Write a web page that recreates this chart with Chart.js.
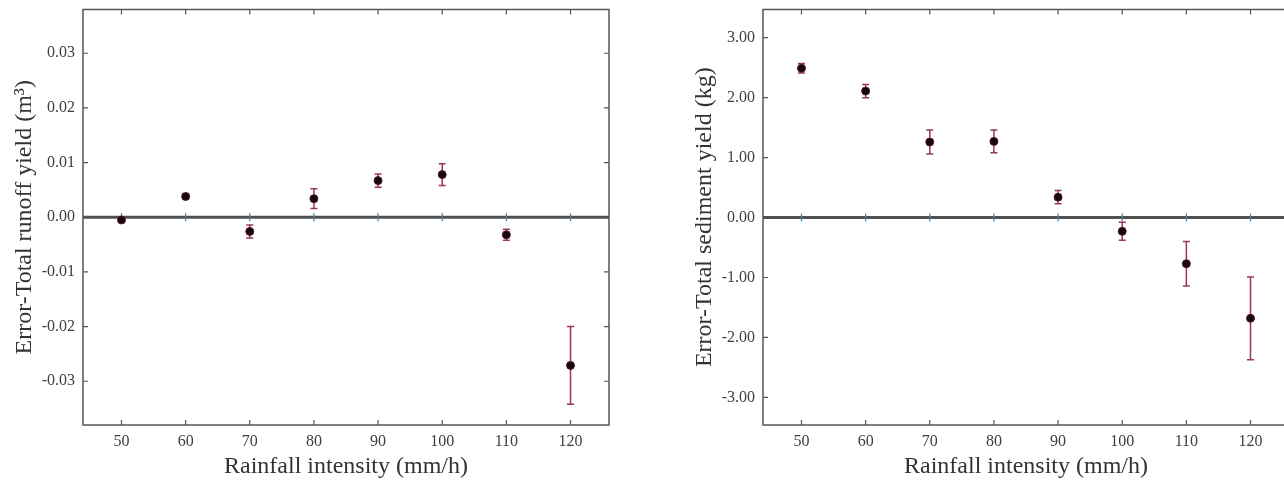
<!DOCTYPE html>
<html>
<head>
<meta charset="utf-8">
<script src="https://cdn.jsdelivr.net/npm/chart.js@4.4.1/dist/chart.umd.min.js"></script>
<style>
html,body{margin:0;padding:0;background:#fff;overflow:hidden;width:1284px;height:481px;}
.box{position:absolute;top:0;width:640px;height:481px;}
</style>
</head>
<body>
<div class="box" style="left:0"><canvas id="c1"></canvas></div>
<div class="box" style="left:680px"><canvas id="c2"></canvas></div>
<script>
const rainfall = [50, 60, 70, 80, 90, 100, 110, 120];
const runoffError = [-0.0005, 0.0038, -0.0026, 0.0034, 0.0067, 0.0078, -0.0032, -0.0271];
const runoffSD = [0.0003, 0.0005, 0.0012, 0.0018, 0.0012, 0.0020, 0.0010, 0.0071];
const sedimentError = [2.49, 2.11, 1.26, 1.27, 0.34, -0.23, -0.77, -1.68];
const sedimentSD = [0.08, 0.11, 0.20, 0.19, 0.11, 0.15, 0.37, 0.69];
const xTicks = [50, 60, 70, 80, 90, 100, 110, 120];
const runoffTicks = [-0.03, -0.02, -0.01, 0.00, 0.01, 0.02, 0.03];
const sedimentTicks = [-3, -2, -1, 0, 1, 2, 3];

const FONT = "'Liberation Serif', 'Times New Roman', serif";
const FRAME = '#555555';

const decorPlugin = {
  id: 'decor',
  beforeDatasetsDraw(chart) {
    const {ctx, chartArea: a, scales: {x, y}} = chart;
    ctx.save();
    const y0 = y.getPixelForValue(0);
    ctx.strokeStyle = '#505050';
    ctx.lineWidth = 3;
    ctx.beginPath(); ctx.moveTo(a.left, y0); ctx.lineTo(a.right, y0); ctx.stroke();
    ctx.strokeStyle = '#4f7fa3';
    ctx.lineWidth = 1.3;
    x.ticks.forEach(t => {
      const px = x.getPixelForValue(t.value);
      ctx.beginPath(); ctx.moveTo(px, y0 - 4); ctx.lineTo(px, y0 + 4); ctx.stroke();
    });
    const ds = chart.data.datasets[0];
    ctx.strokeStyle = '#9a3853';
    ctx.lineWidth = 1.5;
    ds.data.forEach((p, i) => {
      const e = ds.errors[i];
      const px = x.getPixelForValue(p.x);
      const pt = y.getPixelForValue(p.y + e);
      const pb = y.getPixelForValue(p.y - e);
      ctx.beginPath();
      ctx.moveTo(px, pt); ctx.lineTo(px, pb);
      ctx.moveTo(px - 3.5, pt); ctx.lineTo(px + 3.5, pt);
      ctx.moveTo(px - 3.5, pb); ctx.lineTo(px + 3.5, pb);
      ctx.stroke();
    });
    ctx.restore();
  },
  afterDraw(chart) {
    const {ctx, chartArea: a, scales: {x, y}} = chart;
    ctx.save();
    ctx.strokeStyle = FRAME;
    ctx.lineWidth = 1.5;
    ctx.strokeRect(a.left, a.top, a.right - a.left, a.bottom - a.top);
    ctx.lineWidth = 1.2;
    const L = 5;
    ctx.beginPath();
    x.ticks.forEach(t => {
      const px = x.getPixelForValue(t.value);
      ctx.moveTo(px, a.top); ctx.lineTo(px, a.top + L);
      ctx.moveTo(px, a.bottom); ctx.lineTo(px, a.bottom - L);
    });
    y.ticks.forEach(t => {
      const py = y.getPixelForValue(t.value);
      ctx.moveTo(a.left, py); ctx.lineTo(a.left + L, py);
      ctx.moveTo(a.right, py); ctx.lineTo(a.right - L, py);
    });
    ctx.stroke();
    ctx.restore();
  }
};

function makeChart(id, values, errs, yTickVals, yMin, yMax, yTitle) {
  return new Chart(document.getElementById(id), {
    type: 'scatter',
    data: {
      datasets: [{
        data: rainfall.map((r, i) => ({x: r, y: values[i]})),
        errors: errs,
        backgroundColor: '#120a0c',
        borderColor: '#5a1626',
        borderWidth: 1,
        pointRadius: 4,
        pointHoverRadius: 4
      }]
    },
    options: {
      responsive: true,
      maintainAspectRatio: false,
      animation: false,
      events: [],
      layout: {padding: {left: 0, top: 9.5, right: 31, bottom: 0}},
      plugins: {legend: {display: false}, tooltip: {enabled: false}},
      scales: {
        x: {
          type: 'linear', min: 44, max: 126,
          afterBuildTicks: s => { s.ticks = xTicks.map(v => ({value: v})); },
          afterFit: s => { s.height = 56; s.paddingLeft = 0; s.paddingRight = 0; },
          grid: {display: false, drawTicks: false, tickLength: 0},
          border: {display: false},
          ticks: {padding: 7, color: '#404040', font: {family: FONT, size: 16}, callback: v => String(v)},
          title: {display: true, text: 'Rainfall intensity (mm/h)', color: '#333', padding: {top: 0, bottom: 0}, font: {family: FONT, size: 24}}
        },
        y: {
          type: 'linear', min: yMin, max: yMax,
          afterBuildTicks: s => { s.ticks = yTickVals.map(v => ({value: v})); },
          afterFit: s => { s.width = 83; s.paddingTop = 0; s.paddingBottom = 0; },
          grid: {display: false, drawTicks: false, tickLength: 0},
          border: {display: false},
          ticks: {padding: 8, color: '#404040', font: {family: FONT, size: 16}, callback: v => Number(v).toFixed(2)},
          title: {display: true, text: yTitle, color: '#333', padding: {top: 10.5, bottom: 0}, font: {family: FONT, size: 24}}
        }
      }
    },
    plugins: [decorPlugin]
  });
}

makeChart('c1', runoffError, runoffSD, runoffTicks, -0.038, 0.038, 'Error-Total runoff yield (m³)');
makeChart('c2', sedimentError, sedimentSD, sedimentTicks, -3.46, 3.47, 'Error-Total sediment yield (kg)');
</script>
</body>
</html>
